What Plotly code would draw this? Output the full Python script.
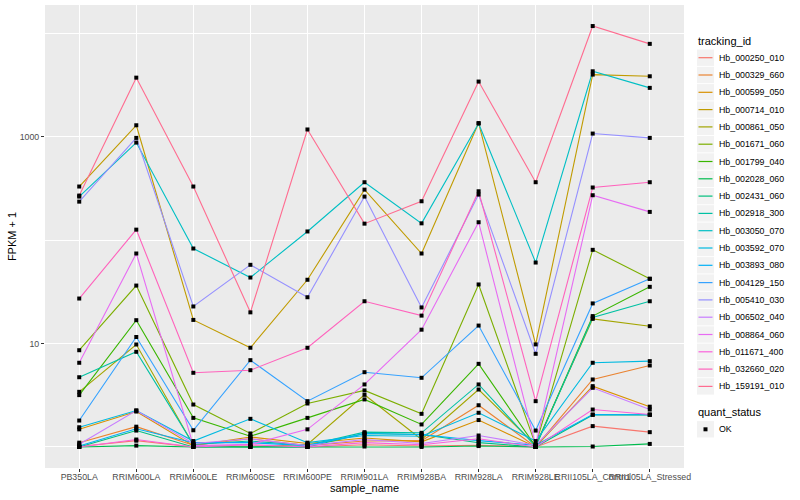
import math
import plotly.graph_objects as go

samples = ["PB350LA", "RRIM600LA", "RRIM600LE", "RRIM600SE", "RRIM600PE",
           "RRIM901LA", "RRIM928BA", "RRIM928LA", "RRIM928LE",
           "RRII105LA_Control", "RRII105LA_Stressed"]

tracking_ids = ["Hb_000250_010", "Hb_000329_660", "Hb_000599_050", "Hb_000714_010",
                "Hb_000861_050", "Hb_001671_060", "Hb_001799_040", "Hb_002028_060",
                "Hb_002431_060", "Hb_002918_300", "Hb_003050_070", "Hb_003592_070",
                "Hb_003893_080", "Hb_004129_150", "Hb_005410_030", "Hb_006502_040",
                "Hb_008864_060", "Hb_011671_400", "Hb_032660_020", "Hb_159191_010"]

quant_status = ["OK"]

# FPKM values per gene, in sample order
hb_000250_010 = [0.01, 0.15, 0.0, 0.02, 0.0, 0.05, 0.02, 0.04, 0.0, 0.59, 0.39]
hb_000329_660 = [0.10, 0.57, 0.04, 0.20, 0.03, 0.14, 0.15, 1.53, 0.0, 3.49, 5.13]
hb_000599_050 = [0.48, 1.20, 0.03, 0.25, 0.08, 0.22, 0.12, 0.82, 0.0, 2.87, 1.45]
hb_000714_010 = [328, 1285, 15.9, 8.1, 40.3, 306, 73.1, 1349, 8.8, 3971, 3825]
hb_000861_050 = [2.41, 8.78, 0.04, 0.0, 0.06, 2.19, 0.18, 2.59, 0.04, 16.3, 13.7]
hb_001671_060 = [7.61, 35.3, 1.57, 0.35, 1.63, 2.52, 1.09, 36.2, 0.04, 79.4, 41.2]
hb_001799_040 = [2.17, 15.8, 0.91, 0.27, 0.91, 1.88, 0.65, 5.36, 0.01, 17.4, 34.3]
hb_002028_060 = [0.0, 0.03, 0.0, 0.0, 0.0, 0.01, 0.0, 0.02, 0.0, 0.01, 0.07]
hb_002431_060 = [0.0, 0.44, 0.0, 0.0, 0.0, 0.35, 0.32, 0.10, 0.0, 1.04, 1.04]
hb_002918_300 = [3.72, 7.31, 0.06, 0.14, 0.04, 0.39, 0.37, 3.02, 0.01, 16.8, 24.6]
hb_003050_070 = [262, 874, 81.8, 42.4, 120, 361, 144, 1335, 59.6, 4274, 2955]
hb_003592_070 = [0.55, 1.25, 0.14, 0.87, 0.10, 0.29, 0.27, 1.14, 0.14, 5.51, 5.75]
hb_003893_080 = [0.02, 0.50, 0.10, 0.10, 0.03, 0.35, 0.32, 0.15, 0.04, 1.06, 1.05]
hb_004129_150 = [0.80, 10.56, 0.45, 5.9, 1.77, 4.28, 3.66, 13.9, 0.44, 23.4, 41.2]
hb_005410_030 = [234, 970, 21.8, 56.6, 27.0, 262, 21.3, 274, 6.95, 1068, 970]
hb_006502_040 = [0.06, 1.25, 0.08, 0.20, 0.03, 0.18, 0.08, 0.29, 0.04, 2.73, 1.30]
hb_008864_060 = [5.51, 73.1, 0.03, 0.06, 0.48, 3.02, 12.6, 147.6, 0.04, 270, 186]
hb_011671_400 = [0.0, 0.18, 0.0, 0.05, 0.0, 0.10, 0.05, 0.20, 0.0, 1.30, 1.06]
hb_032660_020 = [26.2, 125, 4.21, 4.52, 8.09, 24.6, 17.6, 295, 1.77, 321, 361]
hb_159191_010 = [268, 3710, 328, 19.0, 1170, 143, 236, 3400, 361, 11700, 7870]

series = [hb_000250_010, hb_000329_660, hb_000599_050, hb_000714_010, hb_000861_050,
          hb_001671_060, hb_001799_040, hb_002028_060, hb_002431_060, hb_002918_300,
          hb_003050_070, hb_003592_070, hb_003893_080, hb_004129_150, hb_005410_030,
          hb_006502_040, hb_008864_060, hb_011671_400, hb_032660_020, hb_159191_010]

colors = ["#F8766D", "#EA8331", "#D89000", "#C09B00", "#A3A500", "#7CAE00", "#39B600",
          "#00BB4E", "#00BF7D", "#00C1A3", "#00BFC4", "#00BAE0", "#00B0F6", "#35A2FF",
          "#9590FF", "#C77CFF", "#E76BF3", "#FA62DB", "#FF62BC", "#FF6C90"]

y_ticks = [10, 1000]
y_minor = [1, 100, 10000]

FONT = "Liberation Sans, Arial, Helvetica, sans-serif"
W, H = 800, 500
ML, MR, MT, MB = 45, 116, 5, 32

fig = go.Figure()
for name, vals, col in zip(tracking_ids, series, colors):
    fig.add_trace(go.Scatter(
        x=samples, y=[v + 1 for v in vals], mode="lines", name=name,
        line=dict(color=col, width=1.1), showlegend=False))
for name, vals in zip(tracking_ids, series):
    fig.add_trace(go.Scatter(
        x=samples, y=[v + 1 for v in vals], mode="markers", showlegend=False,
        marker=dict(color="black", size=4, symbol="square"),
        name=name + " (" + quant_status[0] + ")"))

all_y = [v + 1 for s in series for v in s]
lo, hi = math.log10(min(all_y)), math.log10(max(all_y))
pad = 0.05 * (hi - lo)

# ---- legend drawn in paper space (ggplot-style keys) ----
pw, ph = W - ML - MR, H - MT - MB


def px_x(px):
    return (px - ML) / pw


def px_y(py):
    return (H - MB - py) / ph


shapes, annots = [], []
KEY_X0, KEY_X1, TEXT_X = 697, 714, 716.5
STEP, FIRST = 17.3, 57.7


def add_title(text, cy):
    annots.append(dict(x=px_x(KEY_X0 - 1), y=px_y(cy), xref="paper", yref="paper",
                       text=text, showarrow=False, xanchor="left", yanchor="middle",
                       font=dict(size=11, color="black")))


def add_key(cy):
    shapes.append(dict(type="rect", xref="paper", yref="paper",
                       x0=px_x(KEY_X0), x1=px_x(KEY_X1),
                       y0=px_y(cy + 8.2), y1=px_y(cy - 8.2),
                       fillcolor="#F2F2F2", line=dict(width=0), layer="above"))


def add_text(text, cy):
    annots.append(dict(x=px_x(TEXT_X), y=px_y(cy), xref="paper", yref="paper",
                       text=text, showarrow=False, xanchor="left", yanchor="middle",
                       font=dict(size=8.8, color="black")))


add_title("tracking_id", 41)
for i, (name, col) in enumerate(zip(tracking_ids, colors)):
    cy = FIRST + i * STEP
    add_key(cy)
    shapes.append(dict(type="line", xref="paper", yref="paper",
                       x0=px_x(KEY_X0 + 1.5), x1=px_x(KEY_X1 - 1.5),
                       y0=px_y(cy), y1=px_y(cy),
                       line=dict(color=col, width=1.2), layer="above"))
    add_text(name, cy)

add_title("quant_status", 412.3)
cy_ok = 429.3
add_key(cy_ok)
shapes.append(dict(type="rect", xref="paper", yref="paper",
                   x0=px_x(703.5), x1=px_x(707.5), y0=px_y(cy_ok + 2), y1=px_y(cy_ok - 2),
                   fillcolor="black", line=dict(width=0), layer="above"))
add_text(quant_status[0], cy_ok)

fig.update_layout(
    width=W, height=H,
    margin=dict(l=ML, r=MR, t=MT, b=MB),
    paper_bgcolor="white", plot_bgcolor="#EBEBEB",
    font=dict(family=FONT, size=11, color="black"),
    showlegend=False,
    shapes=shapes, annotations=annots,
    xaxis=dict(
        type="category", range=[-0.6, len(samples) - 0.4],
        showgrid=True, gridcolor="white", gridwidth=1.1, zeroline=False,
        ticks="outside", ticklen=3, tickcolor="#333333", tickwidth=1,
        tickangle=0, tickfont=dict(size=8.8, color="#4D4D4D"),
        ticklabelstandoff=-3,
        title=dict(text="sample_name", font=dict(size=11), standoff=3),
        showline=False, automargin=False),
    yaxis=dict(
        type="log", range=[lo - pad, hi + pad],
        tickmode="array", tickvals=y_ticks, ticktext=[str(t) for t in y_ticks],
        showgrid=True, gridcolor="white", gridwidth=1.1, zeroline=False,
        ticks="outside", ticklen=3, tickcolor="#333333", tickwidth=1,
        tickfont=dict(size=8.8, color="#4D4D4D"),
        minor=dict(tickmode="array", tickvals=y_minor, showgrid=True,
                   gridcolor="white", gridwidth=0.55, ticks=""),
        title=dict(text="FPKM + 1", font=dict(size=11), standoff=0),
        showline=False, automargin=False),
)

fig.write_html("out.html", config={"displayModeBar": False},
               post_script="document.body.style.margin='0px';")
